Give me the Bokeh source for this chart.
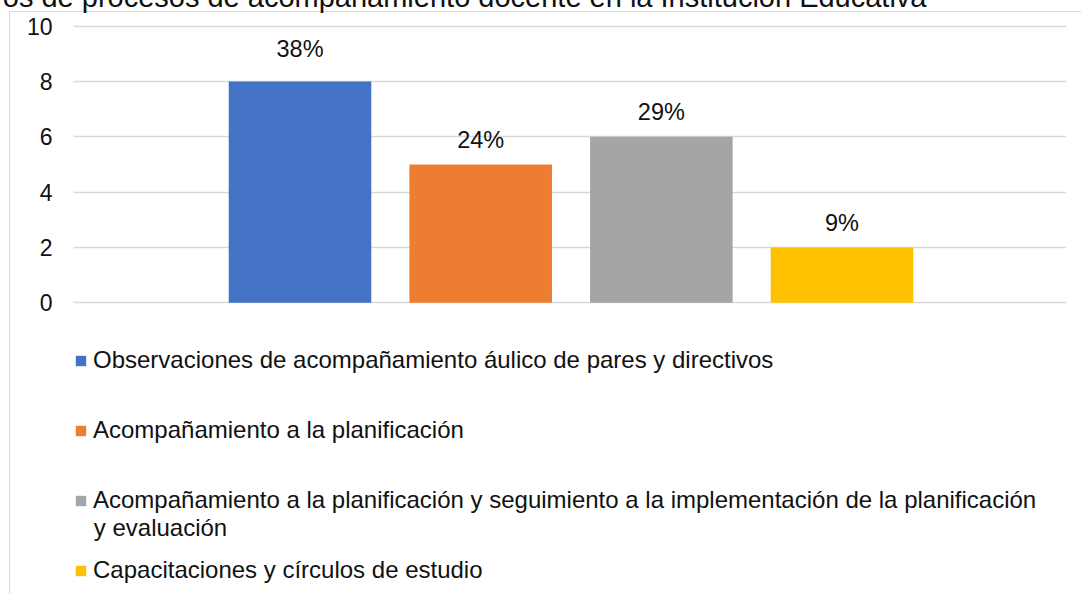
from bokeh.plotting import figure
from bokeh.models import (Range1d, FixedTicker, Legend, LegendItem, Label,
                          ColumnDataSource, Title)
from bokeh.embed import file_html
from bokeh.resources import INLINE

# ---------------- data ----------------
categories = [
    "Observaciones de acompañamiento áulico de pares y directivos",
    "Acompañamiento a la planificación",
    "Acompañamiento a la planificación y seguimiento a la implementación de la planificación y evaluación",
    "Capacitaciones y círculos de estudio",
]
counts = [8, 5, 6, 2]
percent_labels = ["38%", "24%", "29%", "9%"]
y_ticks = [0, 2, 4, 6, 8, 10]
title_text = "os de procesos de acompañamiento docente en la Institución Educativa"
legend_lines = [
    "Observaciones de acompañamiento áulico de pares y directivos",
    "Acompañamiento a la planificación",
    "Acompañamiento a la planificación y seguimiento a la implementación de la planificación",
    "Capacitaciones y círculos de estudio",
]
legend_wrap_line = "y evaluación"

# ---------------- styles ----------------
colors = ["#4472C4", "#ED7D31", "#A5A5A5", "#FFC000"]
label_offsets = [-33, -24.5, -24.5, -24.5]
FONT = "Liberation Sans"
TXT = "#111111"
W, H = 1081, 594
SHIFT = 30            # canvas extends this far above the page top
TOP_BORDER = 40       # canvas px reserved above the frame (title panel)

positions = [i + 1 for i in range(len(counts))]

src = ColumnDataSource(dict(x=positions, top=counts, color=colors,
                            lab=percent_labels, off=label_offsets,
                            cat=categories))

p = figure(width=W, height=H + SHIFT, output_backend="svg",
           toolbar_location=None,
           x_range=Range1d(-0.2537, 5.2425), y_range=Range1d(-10.546, 10.567),
           min_border_left=73, min_border_right=15,
           min_border_top=TOP_BORDER, min_border_bottom=0,
           background_fill_alpha=0, border_fill_alpha=0,
           outline_line_color=None)
line_bg = ("linear-gradient(#d9d9d9,#d9d9d9) 9px %dpx / 1px 640px no-repeat, "
           "linear-gradient(#d9d9d9,#d9d9d9) 9px %dpx / 1080px 1px no-repeat, "
           "#ffffff") % (12 + SHIFT, 11 + SHIFT)
p.styles = {"position": "absolute", "left": "0px", "top": "-%dpx" % SHIFT,
            "background": line_bg}

p.add_layout(Title(text=title_text, align="right", offset=140,
                   vertical_align="bottom", standoff=-4,
                   text_font=FONT, text_font_size="29px",
                   text_font_style="normal", text_color=TXT), "above")

p.xaxis.visible = False
p.xgrid.visible = False

p.yaxis.ticker = FixedTicker(ticks=y_ticks)
p.ygrid.ticker = FixedTicker(ticks=y_ticks)
p.ygrid.grid_line_color = "#d9d9d9"
p.ygrid.grid_line_width = 1.5
p.yaxis.axis_line_color = None
p.yaxis.major_tick_line_color = None
p.yaxis.minor_tick_line_color = None
p.yaxis.major_tick_out = 0
p.yaxis.major_tick_in = 0
p.yaxis.major_label_standoff = 21
p.yaxis.major_label_text_font = FONT
p.yaxis.major_label_text_font_size = "23px"
p.yaxis.major_label_text_color = TXT

bars = p.vbar(x="x", top="top", bottom=0, width=0.789, color="color",
              line_color=None, source=src)

p.text(x="x", y="top", text="lab", y_offset="off", source=src,
       text_align="center", text_baseline="middle",
       text_font={"value": FONT}, text_font_size="23.5px", text_color=TXT)

legend = Legend(
    items=[LegendItem(label=lbl, renderers=[bars], index=i)
           for i, lbl in enumerate(legend_lines)],
    location=(1, 9), orientation="vertical",
    glyph_width=13, glyph_height=13, label_standoff=6,
    label_text_font=FONT, label_text_font_size="24px",
    label_text_color=TXT, label_height=30, spacing=40,
    padding=0, margin=0, border_line_alpha=0, background_fill_alpha=0,
)
p.add_layout(legend)

p.add_layout(Label(x=20.3, y=H - 526.5, x_units="screen", y_units="screen",
                   text=legend_wrap_line, text_font=FONT,
                   text_font_size="24px", text_color=TXT,
                   text_align="left", text_baseline="middle"))

open("out.html", "w").write(file_html(p, INLINE))
